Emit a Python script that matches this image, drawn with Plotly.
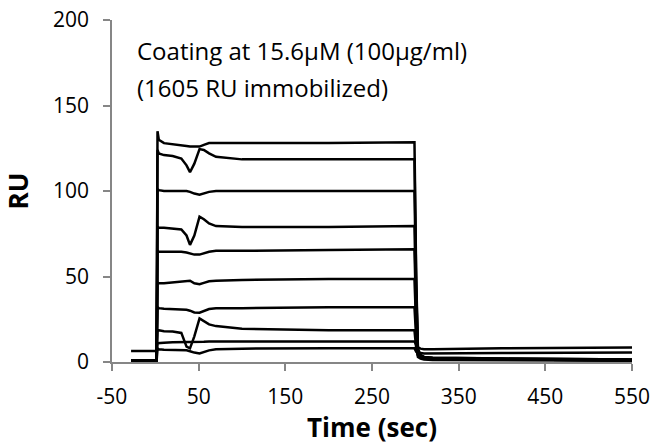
import plotly.graph_objects as go

time_s = [-28, 1.5, 2.5, 4, 10, 20, 30, 36, 40, 45, 51, 56, 62, 70, 100, 200, 299, 301, 303, 306, 310, 320, 400, 550]

# Response (RU) of each sensorgram at those times
curve_128 = [0.8, 0.8, 135, 130, 128, 127.5, 126.8, 126.3, 126, 125.8, 126, 127, 128, 128, 128, 128, 128.5, 50, 8, 4, 3, 2.5, 2, 1.5]
curve_118 = [0.8, 0.8, 124, 122, 121, 120.5, 119, 115, 111, 116, 124.5, 124, 122, 120, 118.5, 118.5, 118.5, 45, 7, 4, 3, 2.5, 2, 1.5]
curve_100 = [0.8, 0.8, 101, 100.5, 100, 100, 100, 100, 99.5, 98.5, 97.8, 98.5, 99.5, 100, 100, 100, 100, 40, 6, 3.5, 2.5, 2, 1.5, 1.2]
curve_79 = [0.8, 0.8, 79, 78.5, 78.5, 78, 77.5, 74, 68.5, 74, 85, 83.5, 81, 79.5, 79, 79, 79.5, 30, 5, 3, 2.5, 2, 1.5, 1]
curve_65 = [0.8, 0.8, 65, 64.5, 64.5, 64.5, 64.5, 64, 63.5, 62.8, 62.8, 63.5, 64.5, 65, 65, 65.5, 66, 25, 5, 3, 2.5, 2, 1.5, 1]
curve_48 = [0.8, 0.8, 46.5, 46, 46, 46.5, 46.8, 47.5, 47.5, 46, 45.5, 46.3, 47.2, 47.5, 48, 48.5, 48.5, 20, 4.5, 3, 2.5, 2, 1.5, 1]
curve_32 = [0.8, 0.8, 32, 31.5, 31.2, 31, 30.8, 30.5, 30, 29, 28.8, 29.8, 31, 31.5, 31.5, 32, 32, 14, 4, 3, 2.5, 2, 1.5, 1]
curve_18 = [0.8, 0.8, 18.5, 18.5, 18, 17.8, 17, 9, 8, 15, 25.5, 24, 22, 21, 19.5, 18.5, 18.5, 8, 3, 2, 1.5, 1.2, 1, 0.8]
curve_12 = [6.5, 6.5, 11, 11, 11.2, 11.5, 11.5, 11.5, 11.5, 11.5, 11.7, 11.8, 12, 12, 12, 12, 12, 10, 8.5, 7.8, 7.5, 7.5, 8, 8.5]
curve_8 = [0.8, 0.8, 8, 7.5, 7.2, 7, 7, 6.8, 6.3, 5.5, 5, 5.8, 6.8, 7.5, 7.8, 8, 8, 6, 5.5, 5.2, 5, 5, 5.2, 5.5]

curves = [curve_128, curve_118, curve_100, curve_79, curve_65, curve_48, curve_32, curve_18, curve_12, curve_8]

x_ticks = [-50, 50, 150, 250, 350, 450, 550]
y_ticks = [0, 50, 100, 150, 200]

note_lines = ["Coating at 15.6µM (100µg/ml)", "(1605 RU immobilized)"]

FONT = "Open Sans"
AXIS_GREY = "#868686"

fig = go.Figure()
for c in curves:
    fig.add_trace(go.Scatter(x=time_s, y=c, mode="lines",
                             line=dict(color="black", width=2.5),
                             showlegend=False, hoverinfo="skip"))

annotations = []
for txt, ypos in zip(note_lines, [0.912, 0.804]):
    annotations.append(dict(text=txt, xref="paper", yref="paper", x=0.045, y=ypos,
                            xanchor="left", yanchor="middle", align="left", showarrow=False,
                            font=dict(family=FONT, size=24, color="black")))

fig.update_layout(
    width=653, height=445,
    margin=dict(l=112, r=21, t=20, b=83),
    plot_bgcolor="white", paper_bgcolor="white",
    font=dict(family=FONT, size=21, color="black"),
    xaxis=dict(range=[-50, 550], tickvals=x_ticks, ticktext=[str(v) for v in x_ticks],
               automargin=False,
               showgrid=False, zeroline=False, showline=True, linecolor=AXIS_GREY, linewidth=1.5,
               ticks="outside", ticklen=7, tickcolor=AXIS_GREY, tickwidth=1.5,
               ticklabelstandoff=8,
               tickfont=dict(family=FONT, size=21, color="black"),
               title=dict(text="<b>Time (sec)</b>", font=dict(family=FONT, size=26, color="black"), standoff=2)),
    yaxis=dict(range=[0, 200], tickvals=y_ticks, ticktext=[str(v) for v in y_ticks],
               automargin=False,
               showgrid=False, zeroline=False, showline=True, linecolor=AXIS_GREY, linewidth=1.5,
               ticks="outside", ticklen=7, tickcolor=AXIS_GREY, tickwidth=1.5,
               ticklabelstandoff=10,
               tickfont=dict(family=FONT, size=21, color="black"),
               title=dict(text="<b>RU</b>", font=dict(family=FONT, size=26, color="black"), standoff=18)),
    annotations=annotations,
)

fig.write_html("out.html")
